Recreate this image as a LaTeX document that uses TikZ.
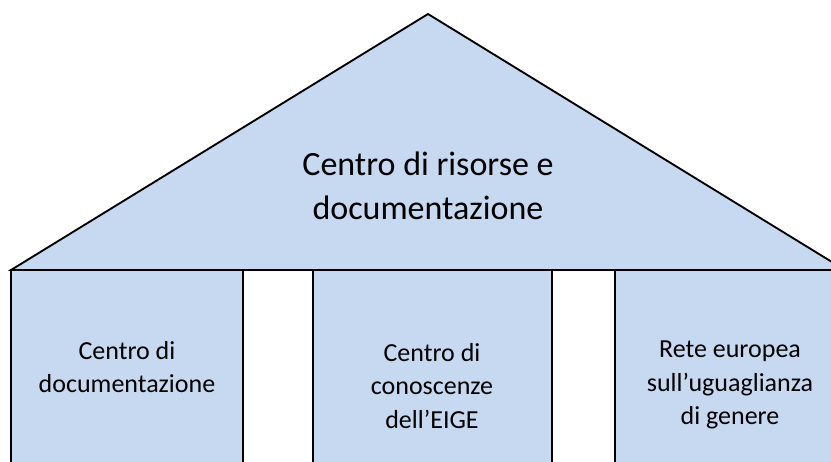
\documentclass[tikz,border=0pt]{standalone}
\usepackage{fontspec}
\setmainfont{Carlito}
\definecolor{pillarblue}{RGB}{198,217,241}
\begin{document}
\begin{tikzpicture}[
    x=0.75pt, y=-0.75pt,
    part/.style={draw, line width=1.4pt, fill=pillarblue, line join=miter},
    rooftext/.style={align=center, font=\fontsize{25.5}{33}\selectfont},
    coltext/.style={align=center, font=\fontsize{19.5}{25}\selectfont}
]
    \useasboundingbox (0,0) rectangle (831,461);
    \clip (0,0) rectangle (831,461);

    % Roof
    \coordinate (apex) at (428,14);
    \coordinate (eaveL) at (11,270);
    \coordinate (eaveR) at (845,270);
    \draw[part] (apex) -- (eaveL) -- (eaveR) -- cycle;
    \node[rooftext] (roof) at (428,186) {Centro di risorse e\\documentazione};

    % Pillars
    \draw[part] (11,270) rectangle (243,490);
    \draw[part] (313,270) rectangle (552,490);
    \draw[part] (615,270) rectangle (845,490);

    \node[coltext] (doc) at (127,367) {Centro di\\documentazione};
    \node[coltext] (eige) at (432,386) {Centro di\\conoscenze\\dell’EIGE};
    \node[coltext] (rete) at (730,385) {Rete europea\\sull’uguaglianza\\di genere};
\end{tikzpicture}
\end{document}
